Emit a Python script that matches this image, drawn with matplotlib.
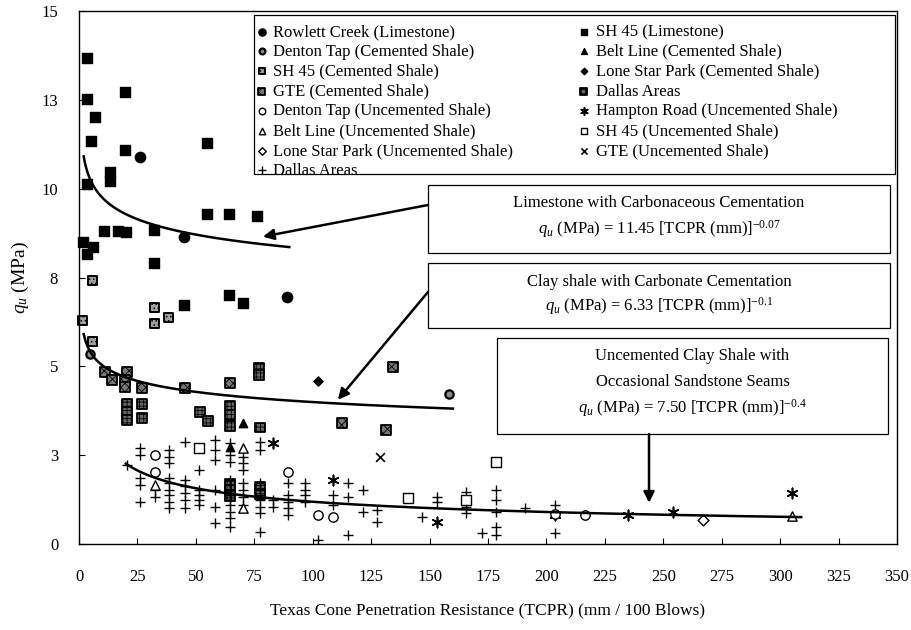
import numpy as np
import matplotlib
matplotlib.use("Agg")
import matplotlib.pyplot as plt
from matplotlib.patches import Rectangle
from matplotlib.transforms import Bbox, TransformedBbox

plt.rcParams['font.family'] = ['Liberation Serif', 'DejaVu Serif']
plt.rcParams['mathtext.fontset'] = 'custom'
plt.rcParams['mathtext.rm'] = 'Liberation Serif'
plt.rcParams['mathtext.it'] = 'Liberation Serif:italic'
plt.rcParams['hatch.linewidth'] = 0.6

# ---- measured points: TCPR (mm/100 blows) vs qu (MPa) ----
rowlett_x = [26.0, 45.0, 89.0]
rowlett_y = [10.9, 8.65, 6.95]

sh45_ls_x = [3.4, 3.4, 6.8, 5.1, 19.7, 19.7, 54.8, 13.3, 13.3, 3.4, 54.8, 64.2,
             76.2, 10.7, 16.7, 20.1, 32.1, 1.7, 6.0, 3.4, 32.1, 64.2, 70.2, 44.9]
sh45_ls_y = [13.67, 12.52, 12.01, 11.33, 12.71, 11.08, 11.28, 10.46, 10.21, 10.12, 9.28, 9.28,
             9.22, 8.80, 8.80, 8.77, 8.85, 8.51, 8.37, 8.15, 7.92, 7.02, 6.79, 6.74]

denton_cem_x = [4.5, 158.5]
denton_cem_y = [5.35, 4.23]
belt_cem_x = [70.2, 64.6]
belt_cem_y = [3.41, 2.72]
sh45_cem_x = [5.6, 32.1, 38.5, 32.1, 1.7, 5.6]
sh45_cem_y = [7.41, 6.65, 6.37, 6.20, 6.29, 5.69]
lonestar_cem_x = [102.3]
lonestar_cem_y = [4.60]
gte_cem_x = [11.1, 20.5, 19.7, 19.7, 14.1, 27.0, 45.4, 64.6, 112.5, 131.4, 134.4]
gte_cem_y = [4.85, 4.85, 4.62, 4.41, 4.62, 4.40, 4.40, 4.54, 3.41, 3.21, 4.99]
dallas_cem_x = [20.5, 20.5, 20.5, 27.0, 27.0, 51.8, 55.2, 64.6, 64.6, 64.6, 77.5, 77.0,
                77.0, 64.6, 64.6, 64.6, 77.5, 77.5]
dallas_cem_y = [3.95, 3.72, 3.48, 3.95, 3.55, 3.72, 3.47, 3.90, 3.62, 3.33, 3.28, 4.96,
                4.75, 1.70, 1.52, 1.34, 1.60, 1.40]

denton_unc_x = [32.5, 32.5, 89.4, 102.3, 108.7, 203.7, 216.5]
denton_unc_y = [2.51, 2.03, 2.03, 0.82, 0.76, 0.85, 0.82]
hampton_x = [83.0, 108.7, 153.0, 203.7, 235.0, 254.0, 305.0]
hampton_y = [2.85, 1.80, 0.62, 0.82, 0.82, 0.90, 1.43]
belt_unc_x = [70.2, 32.5, 70.2, 305.0]
belt_unc_y = [2.71, 1.66, 1.01, 0.79]
sh45_unc_x = [51.3, 140.8, 178.4, 165.6]
sh45_unc_y = [2.71, 1.30, 2.31, 1.24]
lonestar_unc_x = [267.0]
lonestar_unc_y = [0.68]
gte_unc_x = [128.8]
gte_unc_y = [2.45]

dallas_unc_x = [20.5,
                26.1, 26.1, 26.1, 26.1, 26.1,
                32.5, 32.5,
                38.6, 38.6, 38.6, 38.6, 38.6, 38.6, 38.6, 38.6, 38.6,
                45.4, 45.4, 45.4, 45.4, 45.4, 45.4,
                51.5, 51.5, 51.5, 51.5, 51.5,
                58.2, 58.2, 58.2, 58.2, 58.2, 58.2,
                64.6, 64.6, 64.6, 64.6, 64.6, 64.6, 64.6, 64.6, 64.6, 64.6, 64.6, 64.6,
                70.3, 70.3, 70.3, 70.3, 70.3, 70.3, 70.3,
                77.5, 77.5, 77.5, 77.5, 77.5, 77.5, 77.5, 77.5, 77.5,
                83.2, 83.2,
                89.6, 89.6, 89.6, 89.6, 89.6,
                96.7, 96.7, 96.7, 96.7,
                102.4,
                108.8, 108.8,
                115.2, 115.2, 115.2,
                121.7, 121.7,
                127.4, 127.4,
                146.6,
                153.0, 153.0,
                165.6, 165.6, 165.6,
                172.3,
                178.4, 178.4, 178.4, 178.4, 178.4,
                190.8,
                203.7, 203.7,
                216.5]
dallas_unc_y = [2.23,
                2.70, 2.51, 1.85, 1.66, 1.19,
                1.52, 1.33,
                2.65, 2.46, 2.27, 1.85, 1.71, 1.52, 1.38, 1.19, 1.01,
                2.88, 1.80, 1.62, 1.43, 1.24, 1.01,
                2.09, 1.52, 1.38, 1.24, 1.10,
                2.93, 2.65, 2.37, 1.52, 1.05, 0.58,
                2.84, 2.51, 2.32, 1.80, 1.66, 1.52, 1.38, 1.24, 1.10, 0.91, 0.72, 0.49,
                2.46, 2.27, 2.09, 1.71, 1.52, 1.33, 1.10,
                2.88, 2.65, 1.71, 1.52, 1.38, 1.24, 1.05, 0.87, 0.35,
                1.24, 1.05,
                1.71, 1.38, 1.19, 1.01, 0.82,
                1.71, 1.52, 1.38, 1.19,
                0.11,
                1.38, 1.10,
                1.71, 1.33, 0.25,
                1.52, 0.91,
                0.96, 0.63,
                0.77,
                1.33, 1.19,
                1.47, 1.05, 0.87,
                0.30,
                1.52, 1.24, 0.91, 0.49, 0.25,
                1.01,
                1.10, 0.30,
                0.82]

# power-law fits qu = a * TCPR^b and the TCPR range each one spans
fit_ls = (11.45, -0.07, 2.0, 90.0)
fit_cem = (6.33, -0.1, 2.0, 160.0)
fit_unc = (7.50, -0.4, 20.0, 309.0)

x_ticks = list(range(0, 351, 25))
y_ticks = [0, 2.5, 5, 7.5, 10, 12.5, 15]
y_tick_labels = ['0', '3', '5', '8', '10', '13', '15']

fig = plt.figure(figsize=(9.12, 6.3), dpi=100)
W, H = 912.0, 630.0
L, R, T, B = 79.0, 897.0, 11.0, 544.0
ax = fig.add_axes([L / W, 1 - B / H, (R - L) / W, (B - T) / H])


def fx(px):
    return (px - L) / (R - L)


def fy(py):
    return (B - py) / (B - T)


k = dict(clip_on=False)
h_rowlett = ax.scatter(rowlett_x, rowlett_y, s=55, marker='o', c='k', **k)
h_sh45_ls = ax.scatter(sh45_ls_x, sh45_ls_y, s=48, marker='s', c='k', **k)
h_denton_cem = ax.scatter(denton_cem_x, denton_cem_y, s=36, marker='o', facecolor='#8a8a8a',
                          edgecolor='k', linewidths=1.6)
h_belt_cem = ax.scatter(belt_cem_x, belt_cem_y, s=36, marker='^', c='k')
h_sh45_cem = ax.scatter(sh45_cem_x, sh45_cem_y, s=42, marker='s', facecolor='#a0a0a0',
                        edgecolor='k', linewidths=1.4, hatch='....', **k)
h_lonestar_cem = ax.scatter(lonestar_cem_x, lonestar_cem_y, s=22, marker='D', c='k')
h_gte_cem = ax.scatter(gte_cem_x, gte_cem_y, s=50, marker='s', facecolor='#777777',
                       edgecolor='k', linewidths=1.3, hatch='xxxx')
h_dallas_cem = ax.scatter(dallas_cem_x, dallas_cem_y, s=50, marker='s', facecolor='#666666',
                          edgecolor='k', linewidths=1.3, hatch='++++')
h_denton_unc = ax.scatter(denton_unc_x, denton_unc_y, s=45, marker='o', facecolor='white',
                          edgecolor='k', linewidths=1.0, zorder=2)
h_hampton = ax.scatter(hampton_x, hampton_y, s=55, marker=(6, 2, 0), c='k', linewidths=1.2)
h_belt_unc = ax.scatter(belt_unc_x, belt_unc_y, s=45, marker='^', facecolor='white',
                        edgecolor='k', linewidths=1.0, zorder=2)
h_sh45_unc = ax.scatter(sh45_unc_x, sh45_unc_y, s=50, marker='s', facecolor='white',
                        edgecolor='k', linewidths=1.0, zorder=2)
h_lonestar_unc = ax.scatter(lonestar_unc_x, lonestar_unc_y, s=30, marker='D', facecolor='white',
                            edgecolor='k', linewidths=1.0)
h_gte_unc = ax.scatter(gte_unc_x, gte_unc_y, s=40, marker='x', c='k', linewidths=1.2)
h_dallas_unc = ax.scatter(dallas_unc_x, dallas_unc_y, s=55, marker='+', c='k', linewidths=1.0)

# fitted trend lines
for a, b, x0, x1 in (fit_ls, fit_cem, fit_unc):
    xs = np.linspace(x0, x1, 200)
    ax.plot(xs, a * xs ** b, color='k', lw=1.8, zorder=3)

ax.set_xlim(0, 350)
ax.set_ylim(0, 15)
ax.set_xticks(x_ticks)
ax.set_yticks(y_ticks)
ax.set_yticklabels(y_tick_labels)
ax.tick_params(direction='in', length=4, width=0.8, labelsize=12)
ax.tick_params(axis='x', pad=18)
ax.tick_params(axis='y', pad=15)
for sp in ax.spines.values():
    sp.set_linewidth(1.0)

ax.set_xlabel('Texas Cone Penetration Resistance (TCPR) (mm / 100 Blows)', fontsize=12.5)
ax.xaxis.set_label_coords(0.5, fy(602))
ax.set_ylabel('$q_u$ (MPa)', fontsize=14)
ax.yaxis.set_label_coords(fx(31), 0.5)

# legend: two columns inside a frame that cuts the last row
col1 = [(h_rowlett, 'Rowlett Creek (Limestone)'),
        (h_denton_cem, 'Denton Tap (Cemented Shale)'),
        (h_sh45_cem, 'SH 45 (Cemented Shale)'),
        (h_gte_cem, 'GTE (Cemented Shale)'),
        (h_denton_unc, 'Denton Tap (Uncemented Shale)'),
        (h_belt_unc, 'Belt Line (Uncemented Shale)'),
        (h_lonestar_unc, 'Lone Star Park (Uncemented Shale)'),
        (h_dallas_unc, 'Dallas Areas')]
col2 = [(h_sh45_ls, 'SH 45 (Limestone)'),
        (h_belt_cem, 'Belt Line (Cemented Shale)'),
        (h_lonestar_cem, 'Lone Star Park (Cemented Shale)'),
        (h_dallas_cem, 'Dallas Areas'),
        (h_hampton, 'Hampton Road (Uncemented Shale)'),
        (h_sh45_unc, 'SH 45 (Uncemented Shale)'),
        (h_gte_unc, 'GTE (Uncemented Shale)')]

frame_box = Bbox([[fx(254), fy(174)], [fx(895), fy(15)]])
ax.add_patch(Rectangle((frame_box.x0, frame_box.y0), frame_box.width, frame_box.height,
                       transform=ax.transAxes, facecolor='white', edgecolor='k',
                       lw=0.9, zorder=4))
clip = TransformedBbox(frame_box, ax.transAxes)

legs = []
for col, xa in ((col1, 256), (col2, 578)):
    leg = ax.legend([c[0] for c in col], [c[1] for c in col], loc='upper left',
                    bbox_to_anchor=(fx(xa), fy(24)), frameon=False, borderpad=0,
                    borderaxespad=0, handlelength=0.7, handletextpad=0.35,
                    labelspacing=0.23, fontsize=12, scatterpoints=1, markerscale=0.7)
    for t in leg.get_texts():
        t.set_clip_box(clip)
        t.set_clip_on(True)
    for hd in leg.legend_handles:
        hd.set_clip_box(clip)
        hd.set_clip_on(True)
    legs.append(leg)
ax.add_artist(legs[0])

# labelled boxes for the three fits
boxes = [((428, 185, 890, 253), ['Limestone with Carbonaceous Cementation',
                                 '$q_u$ (MPa) = 11.45 [TCPR (mm)]$^{-0.07}$'], [203, 229]),
         ((428, 263, 890, 328), ['Clay shale with Carbonate Cementation',
                                 '$q_u$ (MPa) = 6.33 [TCPR (mm)]$^{-0.1}$'], [282, 306]),
         ((497, 338, 888, 434), ['Uncemented Clay Shale with',
                                 'Occasional Sandstone Seams',
                                 '$q_u$ (MPa) = 7.50 [TCPR (mm)]$^{-0.4}$'], [356, 382, 408])]
for (x0, y0, x1, y1), lines, ys in boxes:
    ax.add_patch(Rectangle((fx(x0), fy(y1)), fx(x1) - fx(x0), fy(y0) - fy(y1),
                           transform=ax.transAxes, facecolor='white', edgecolor='k',
                           lw=0.9, zorder=4))
    cx = fx((x0 + x1) / 2)
    for s, yy in zip(lines, ys):
        ax.text(cx, fy(yy), s, transform=ax.transAxes, ha='center', va='center',
                fontsize=12, zorder=5)

arrow = dict(arrowstyle='-|>', color='k', lw=1.8, mutation_scale=16, shrinkA=0, shrinkB=0)
ax.annotate('', xy=(78.7, 8.65), xycoords='data', xytext=(fx(428), fy(205)),
            textcoords='axes fraction', arrowprops=arrow, zorder=5)
ax.annotate('', xy=(110.8, 4.06), xycoords='data', xytext=(fx(428), fy(292)),
            textcoords='axes fraction', arrowprops=arrow, zorder=5)
ax.annotate('', xy=(243.9, 1.16), xycoords='data', xytext=(fx(649), fy(434)),
            textcoords='axes fraction', arrowprops=arrow, zorder=5)

fig.savefig('out.png', dpi=100)
